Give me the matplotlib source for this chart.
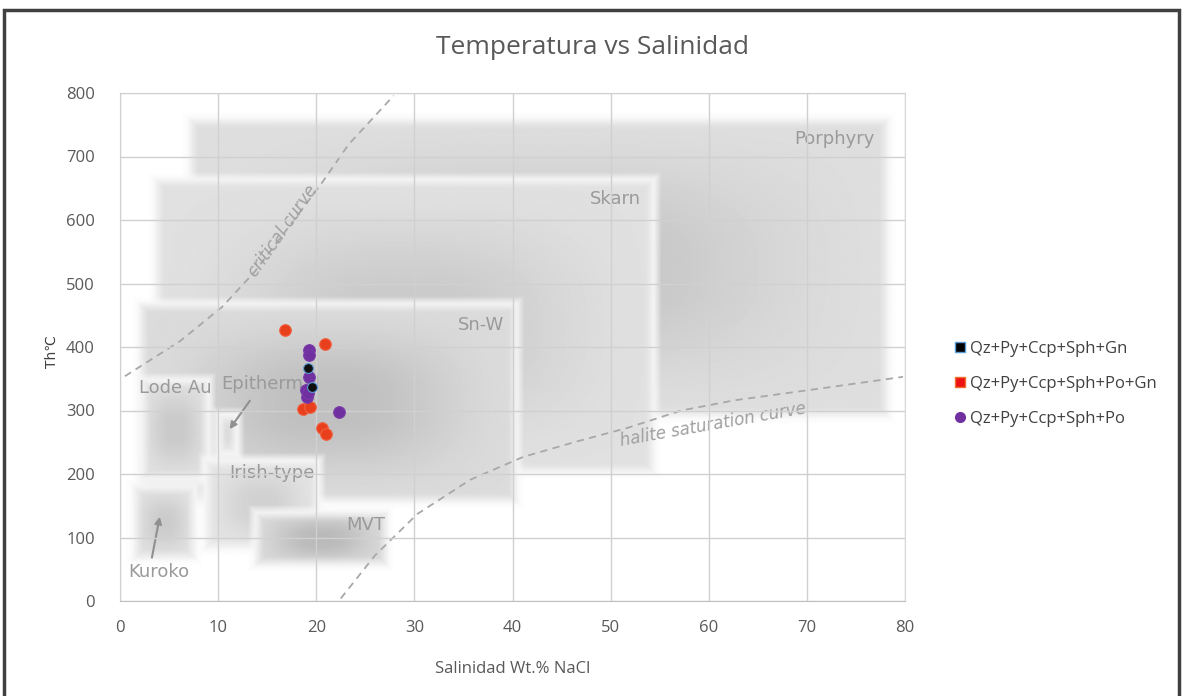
import numpy as np
import matplotlib
matplotlib.use("Agg")
import matplotlib.pyplot as plt
from matplotlib.lines import Line2D
from matplotlib.patches import Rectangle

plt.rcParams["font.family"] = ["Open Sans", "DejaVu Sans"]

# Fluid inclusion data (salinity wt.% NaCl, Th in C)
gn_sal = [19.2, 19.6]
gn_th = [367, 337]
pogn_sal = [16.8, 20.9, 18.7, 19.4, 20.6, 21.0]
pogn_th = [427, 405, 302, 306, 272, 263]
po_sal = [19.3, 19.3, 19.3, 19.0, 19.1, 19.2, 22.3]
po_th = [396, 387, 353, 332, 322, 327, 298]

series_names = ["Qz+Py+Ccp+Sph+Gn", "Qz+Py+Ccp+Sph+Po+Gn", "Qz+Py+Ccp+Sph+Po"]

# Background deposit fields: name, x0, x1, y0, y1, centre grey
field_names = ["Porphyry", "Skarn", "Sn-W", "Lode Au", "Epithermal", "Irish-type", "Kuroko", "MVT"]
field_x0 = [6.7, 3.2, 1.6, 1.8, 9.6, 8.3, 1.0, 13.4]
field_x1 = [78.7, 54.8, 40.8, 9.4, 12.3, 20.6, 8.0, 27.6]
field_y0 = [285, 197, 150, 186, 225, 77, 60, 50]
field_y1 = [765, 670, 474, 354, 300, 227, 186, 145]
field_grey = [0.77, 0.79, 0.75, 0.79, 0.86, 0.82, 0.80, 0.73]

label_x = [72.8, 50.5, 36.8, 5.6, 15.3, 15.5, 4.0, 25.0]
label_y = [728, 633, 435, 335, 342, 202, 45, 120]

# reference curves of the diagram
crit_x = [0.5, 6.1, 10.4, 13.7, 16.9, 20.6, 23.3, 27.9]
crit_y = [354, 409, 463, 518, 583, 659, 719, 796]
hal_x = [22.5, 26.0, 30.3, 35.7, 41.1, 46.5, 51.8, 57.2, 62.6, 70.6, 79.8]
hal_y = [4, 72, 137, 191, 227, 251, 273, 300, 316, 333, 353]

# build a soft grey background image from the fields
nx, ny = 800, 520
px_x = 785 / 80.0
px_y = 508 / 800.0
gx = np.linspace(0, 80, nx)
gy = np.linspace(0, 800, ny)
X, Y = np.meshgrid(gx, gy)
img = np.ones_like(X)


def smooth(t):
    t = np.clip(t, 0, 1)
    return t * t * (3 - 2 * t)


for x0, x1, y0, y1, g in zip(field_x0, field_x1, field_y0, field_y1, field_grey):
    dx = np.minimum(X - x0, x1 - X) * px_x
    dy = np.minimum(Y - y0, y1 - Y) * px_y
    w = (x1 - x0) * px_x
    h = (y1 - y0) * px_y
    sx = smooth(dx / (0.45 * w))
    sy = smooth(dy / (0.45 * h))
    shade = 0.97 + (g - 0.97) * (0.5 + 0.5 * sx * sy) * smooth(np.minimum(dx, dy) / 14)
    alpha = np.clip((np.minimum(dx, dy) + 4) / 8.0, 0, 1)
    img = img * (1 - alpha) + shade * alpha

fig = plt.figure(figsize=(11.84, 6.96), dpi=100)
ax = fig.add_axes([120 / 1184, 1 - 601 / 696, 785 / 1184, 508 / 696])

ax.imshow(img, cmap="gray", vmin=0, vmax=1, extent=[0, 80, 0, 800],
          origin="lower", aspect="auto", zorder=0, interpolation="bilinear")

ax.plot(crit_x, crit_y, ls=(0, (4, 3)), color="#a8a8a8", lw=1.3, zorder=1)
ax.plot(hal_x, hal_y, ls=(0, (4, 3)), color="#a8a8a8", lw=1.3, zorder=1)

for name, lx, ly in zip(field_names, label_x, label_y):
    ax.text(lx, ly, name, fontsize=13, color="#9a9a9a", ha="center", va="center",
            family=["DejaVu Sans"], zorder=2)
ax.text(16.6, 583, "critical curve", fontsize=12, color="#a0a0a0", rotation=55,
        ha="center", va="center", style="italic", family=["DejaVu Sans"], zorder=2)
ax.text(60.4, 278, "halite saturation curve", fontsize=12, color="#a0a0a0", rotation=10,
        ha="center", va="center", style="italic", family=["DejaVu Sans"], zorder=2)

ax.annotate("", xy=(11.0, 267), xytext=(13.4, 319),
            arrowprops=dict(arrowstyle="-|>", color="#909090", lw=1.5), zorder=2)
ax.annotate("", xy=(4.1, 137), xytext=(3.2, 64),
            arrowprops=dict(arrowstyle="-|>", color="#909090", lw=1.5), zorder=2)

ax.set_xlim(0, 80)
ax.set_ylim(0, 800)
ax.set_xticks(range(0, 81, 10))
ax.set_yticks(range(0, 801, 100))
ax.grid(True, color="#d0d0d0", lw=1, zorder=1)
ax.set_axisbelow(False)
ax.tick_params(length=0, labelsize=12, labelcolor="#595959")
ax.tick_params(axis="y", pad=18)
ax.tick_params(axis="x", pad=14)
for s in ax.spines.values():
    s.set_color("#d9d9d9")
ax.spines["bottom"].set_color("#bfbfbf")

ax.scatter(pogn_sal, pogn_th, s=70, color="#e8401c", edgecolors="#f06040", lw=0.8, zorder=4)
ax.scatter(po_sal, po_th, s=70, color="#7030a0", edgecolors="#7a3aaa", lw=0.8, zorder=4)
ax.scatter(gn_sal, gn_th, s=50, color="#101010", edgecolors="#5b9bd5", lw=0.8, zorder=5)

ax.set_xlabel("Salinidad Wt.% NaCl", fontsize=12, color="#595959", labelpad=18)
fig.text(52 / 1184, 1 - 352 / 696, "Th\u2103", rotation=90, fontsize=10, color="#404040",
         ha="center", va="center", family=["DejaVu Sans"])

fig.suptitle("Temperatura vs Salinidad", x=593 / 1184, y=1 - 48 / 696, va="center",
             fontsize=19, color="#595959")

handles = [
    Line2D([], [], marker="s", ls="", color="#000000", mec="#5b9bd5", ms=7),
    Line2D([], [], marker="s", ls="", color="#ee1111", mec="#f07030", ms=7),
    Line2D([], [], marker="o", ls="", color="#7030a0", mec="#7030a0", ms=7),
]
fig.legend(handles, series_names, loc="center left", bbox_to_anchor=(935 / 1184, 1 - 384 / 696),
           frameon=False, fontsize=12, handletextpad=0.0, labelspacing=1.15,
           handlelength=1.2, labelcolor="#404040")

fig.patches.append(Rectangle((4 / 1184, -0.02), 1175 / 1184, 1 - 10 / 696 + 0.02,
                             transform=fig.transFigure, fill=False,
                             edgecolor="#404040", lw=2.5))

fig.savefig("out.png", dpi=100)
